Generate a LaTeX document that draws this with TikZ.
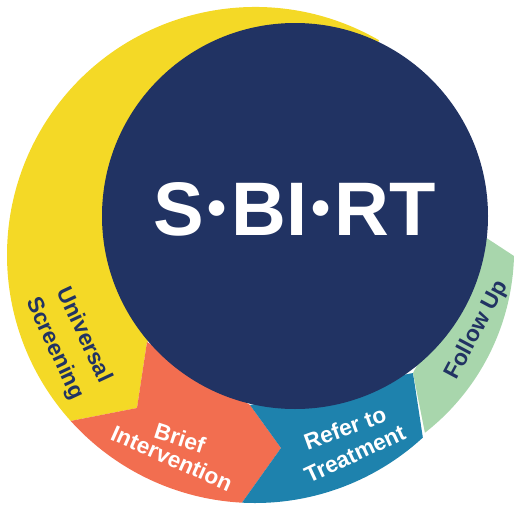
\documentclass[tikz,border=0pt]{standalone}
\usepackage{fontspec}
\setmainfont{Liberation Sans}
\definecolor{sbnavy}{RGB}{33,51,99}
\definecolor{sbyellow}{RGB}{244,217,38}
\definecolor{sborange}{RGB}{242,110,80}
\definecolor{sbblue}{RGB}{30,130,173}
\definecolor{sbgreen}{RGB}{168,214,172}
\newcommand\sbdot{\kern2.4pt\raisebox{4.6pt}{\fontsize{31}{31}\selectfont•}\kern2.4pt}
\tikzset{
  seglabel/.style={font=\bfseries\fontsize{12.9}{18.1}\selectfont,align=center,inner sep=0pt},
  biglabel/.style={font=\bfseries\fontsize{43.2}{50}\selectfont,text=white,inner sep=0pt}
}
\begin{document}
\begin{tikzpicture}[x=0.02cm,y=0.02cm]
\useasboundingbox (0,0) rectangle (514,-504);
\clip (0,0) rectangle (514,-504);

% Universal Screening
\fill[sbyellow] (255,-255) ++(60:248) arc[start angle=60,end angle=222,radius=248]
      -- (137,-408) -- (147,-342) -- (295,-216) -- cycle;
% Brief Intervention
\fill[sborange] (255,-255) ++(222:248) arc[start angle=222,end angle=267,radius=248]
      -- (281,-448) -- (250,-405) -- (147,-342) -- (137,-408) -- cycle;
% Refer to Treatment
\fill[sbblue] (255,-255) ++(267:248) arc[start angle=267,end angle=312.6,radius=248]
      -- (413,-373) -- (250,-405) -- (281,-448) -- cycle;
% Follow Up
\fill[sbgreen] (485,-237) -- (514,-256) arc[start angle=-1.5,end angle=-52,radius=232]
      -- (413,-373) -- cycle;

% centre
\fill[sbnavy] (295,-216) circle[radius=193];
\node[biglabel,anchor=base] (sbirt) at (294.5,-235) {S\sbdot BI\sbdot RT};

% labels
\node[seglabel,text=sbnavy,rotate=-65] (screen) at (69,-342) {Universal\\Screening};
\node[seglabel,text=white,rotate=-18] (brief) at (180,-438) {Brief};
\node[seglabel,text=white,rotate=-24] (interv) at (172,-458) {Intervention};
\node[seglabel,text=white,rotate=20] (refer) at (345,-428) {Refer to};
\node[seglabel,text=white,rotate=25] (treat) at (355,-454) {Treatment};
\node[seglabel,text=sbnavy,rotate=62] (follow) at (477,-330) {Follow Up};
\end{tikzpicture}
\end{document}
